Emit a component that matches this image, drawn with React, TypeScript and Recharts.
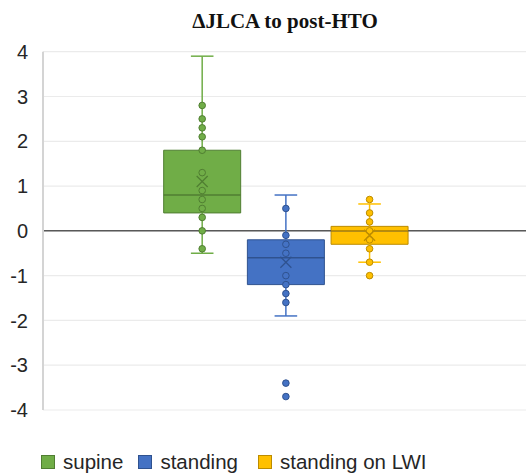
import React from 'react';
import {
  ComposedChart,
  XAxis,
  YAxis,
  CartesianGrid,
  ReferenceArea,
  ReferenceLine,
  Scatter,
  Legend,
  Customized,
} from 'recharts';

const categories = ['supine', 'standing', 'standing on LWI'];
const whiskerLow = [-0.5, -1.9, -0.7];
const quartile1 = [0.4, -1.2, -0.3];
const medians = [0.8, -0.6, 0.0];
const quartile3 = [1.8, -0.2, 0.1];
const whiskerHigh = [3.9, 0.8, 0.6];
const means = [1.1, -0.7, -0.1];
const supinePoints = [2.8, 2.5, 2.3, 2.1, 1.8, 1.3, 0.9, 0.7, 0.5, 0.3, 0.0, -0.4];
const standingPoints = [0.5, -0.1, -0.3, -0.5, -1.0, -1.2, -1.4, -1.6, -3.4, -3.7];
const lwiPoints = [0.7, 0.4, 0.2, 0.0, -0.2, -0.4, -0.7, -1.0];
const yTicks = [-4, -3, -2, -1, 0, 1, 2, 3, 4];

const pointSets = [supinePoints, standingPoints, lwiPoints];
const fills = ['#70AD47', '#4472C4', '#FFC000'];
const strokes = ['#507E32', '#2F528F', '#BC8C00'];

const BOX_HALF = 0.46;
const CAP_HALF = 0.135;
const X_DOMAIN: [number, number] = [-0.902, 4.869];

const PointShape = (color: string, stroke: string) => (p: any) => (
  <circle cx={p.cx} cy={p.cy} r={3.3} fill={color} stroke={stroke} strokeWidth={1} />
);

const MeanShape = (stroke: string) => (p: any) => {
  const s = 5.5;
  return (
    <g>
      <line x1={p.cx - s} y1={p.cy - s} x2={p.cx + s} y2={p.cy + s} stroke={stroke} strokeWidth={1.3} />
      <line x1={p.cx - s} y1={p.cy + s} x2={p.cx + s} y2={p.cy - s} stroke={stroke} strokeWidth={1.3} />
    </g>
  );
};

const renderLegend = () => (
  <div
    style={{
      height: 24,
      display: 'flex',
      alignItems: 'center',
      paddingLeft: 41,
      fontFamily: '"Liberation Sans", Arial, sans-serif',
      fontSize: 20.5,
      color: '#262626',
      lineHeight: '24px',
    }}
  >
    {categories.map((c, i) => (
      <div key={c} style={{ display: 'flex', alignItems: 'center', marginRight: i === 0 ? 15 : 20 }}>
        <span
          style={{
            display: 'inline-block',
            width: 12,
            height: 12,
            background: fills[i],
            border: `1px solid ${strokes[i]}`,
            marginRight: 8,
          }}
        />
        <span>{c}</span>
      </div>
    ))}
  </div>
);

const Title = () => (
  <text
    x={285}
    y={28}
    textAnchor="middle"
    fontFamily='"Liberation Serif", "Times New Roman", serif'
    fontWeight="bold"
    fontSize={21}
    fill="#111"
  >
    ΔJLCA to post-HTO
  </text>
);

export default function App() {
  return (
    <div style={{ position: 'absolute', left: 0, top: 0, width: 526, height: 474, background: '#fff' }}>
      <ComposedChart width={526} height={474} margin={{ top: 51.7, right: 0, left: 0, bottom: 40 }}>
        <CartesianGrid vertical={false} stroke="#EBEBEB" strokeWidth={1.2} />
        <XAxis type="number" dataKey="x" domain={X_DOMAIN} hide allowDataOverflow />
        <YAxis
          type="number"
          dataKey="y"
          domain={[-4, 4]}
          ticks={yTicks}
          width={43}
          tickLine={false}
          tickSize={0}
          tickMargin={15}
          axisLine={{ stroke: '#D4D4D4', strokeWidth: 2 }}
          tick={{ fill: '#262626', fontSize: 20, fontFamily: '"Liberation Sans", Arial, sans-serif' }}
        />
        <ReferenceLine y={0} stroke="#595959" strokeWidth={1.5} />
        {categories.map((c, i) => (
          <ReferenceArea
            key={`box-${c}`}
            x1={i + 1 - BOX_HALF}
            x2={i + 1 + BOX_HALF}
            y1={quartile1[i]}
            y2={quartile3[i]}
            fill={fills[i]}
            fillOpacity={1}
            stroke={strokes[i]}
            strokeWidth={1}
          />
        ))}
        {categories.map((c, i) => (
          <ReferenceLine
            key={`med-${c}`}
            segment={[
              { x: i + 1 - BOX_HALF, y: medians[i] },
              { x: i + 1 + BOX_HALF, y: medians[i] },
            ]}
            stroke={strokes[i]}
            strokeWidth={1.5}
          />
        ))}
        {categories.map((c, i) => (
          <ReferenceLine
            key={`wh-${c}`}
            segment={[
              { x: i + 1, y: quartile3[i] },
              { x: i + 1, y: whiskerHigh[i] },
            ]}
            stroke={fills[i]}
            strokeWidth={1.5}
          />
        ))}
        {categories.map((c, i) => (
          <ReferenceLine
            key={`wl-${c}`}
            segment={[
              { x: i + 1, y: quartile1[i] },
              { x: i + 1, y: whiskerLow[i] },
            ]}
            stroke={fills[i]}
            strokeWidth={1.5}
          />
        ))}
        {categories.map((c, i) => (
          <ReferenceLine
            key={`ch-${c}`}
            segment={[
              { x: i + 1 - CAP_HALF, y: whiskerHigh[i] },
              { x: i + 1 + CAP_HALF, y: whiskerHigh[i] },
            ]}
            stroke={fills[i]}
            strokeWidth={1.5}
          />
        ))}
        {categories.map((c, i) => (
          <ReferenceLine
            key={`cl-${c}`}
            segment={[
              { x: i + 1 - CAP_HALF, y: whiskerLow[i] },
              { x: i + 1 + CAP_HALF, y: whiskerLow[i] },
            ]}
            stroke={fills[i]}
            strokeWidth={1.5}
          />
        ))}
        {categories.map((c, i) => (
          <Scatter
            key={`pts-${c}`}
            name={c}
            data={pointSets[i].map((v) => ({ x: i + 1, y: v }))}
            shape={PointShape(fills[i], strokes[i])}
            isAnimationActive={false}
            legendType="none"
          />
        ))}
        {categories.map((c, i) => (
          <Scatter
            key={`mean-${c}`}
            data={[{ x: i + 1, y: means[i] }]}
            shape={MeanShape(strokes[i])}
            isAnimationActive={false}
            legendType="none"
          />
        ))}
        <Legend
          verticalAlign="bottom"
          content={renderLegend}
          wrapperStyle={{ top: 450, left: 0, width: 526, bottom: 'auto' }}
        />
        <Customized component={Title} />
      </ComposedChart>
    </div>
  );
}
